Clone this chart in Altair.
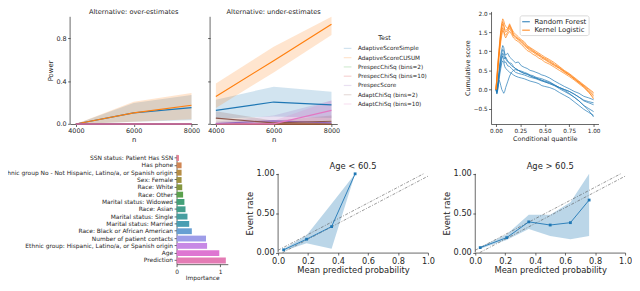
import altair as alt
import pandas as pd
import colorsys

FONT = "DejaVu Sans"
INK = "#262626"
K = 0.94  # vertical fit factor for the 291px window

# ---------------- power panels ----------------
n_vals = [4000, 6000, 8000]
tests = ["AdaptiveScoreSimple", "AdaptiveScoreCUSUM", "PrespecChiSq (bins=2)",
         "PrespecChiSq (bins=10)", "PrespecScore", "AdaptChiSq (bins=2)", "AdaptChiSq (bins=10)"]
test_colors = ["#1f77b4", "#ff7f0e", "#2ca02c", "#d62728", "#9467bd", "#8c564b", "#e377c2"]

over_mean = [[0, 0.104, 0.153], [0, 0.104, 0.175], [0, 0, 0], [0, 0, 0], [0, 0, 0], [0, 0, 0], [0, 0, 0]]
over_lo = [[0, 0.02, 0.035], [0, 0.022, 0.045], [0, 0, 0], [0, 0, 0], [0, 0, 0], [0, 0, 0], [0, 0, 0]]
over_hi = [[0, 0.195, 0.27], [0, 0.207, 0.29], [0, 0, 0], [0, 0, 0], [0, 0, 0], [0, 0, 0], [0, 0, 0]]

under_mean = [[0.127, 0.205, 0.179], [0.257, 0.59, 0.93], [0, 0, 0], [0, 0, 0],
              [0.005, 0.03, 0.01], [0.055, 0.01, 0.026], [0.0, 0.002, 0.127]]
under_lo = [[0.05, 0.07, 0.055], [0.15, 0.48, 0.83], [0, 0, 0], [0, 0, 0],
            [0, 0, 0], [0, 0, 0], [0, 0, 0.04]]
under_hi = [[0.227, 0.348, 0.30], [0.378, 0.72, 1.0], [0, 0, 0], [0, 0, 0],
            [0.02, 0.08, 0.22], [0.12, 0.03, 0.08], [0, 0.03, 0.22]]

# ---------------- cumulative score panel ----------------
cum_x = [0, .01, .02, .03, .04, .05, .06, .07, .08, .09, .10, .12, .14, .16, .18, .20, .23, .26,
         .29, .32, .35, .38, .41, .44, .47, .50, .55, .60, .65, .70, .75, .80, .85, .90, .95, 1.00]
rf_lines = [
    [0, -0.05, 0.2, 0.45, 0.7, 0.9, 1.05, 1.15, 1.1, 0.95, 0.9, 0.95, 0.85, 0.8, 0.75, 0.7, 0.72, 0.62,
     0.58, 0.55, 0.5, 0.48, 0.45, 0.42, 0.38, 0.36, 0.3, 0.22, 0.15, 0.08, 0.02, -0.05, -0.1, -0.18, -0.22, -0.27],
    [0, -0.08, 0.1, 0.35, 0.55, 0.75, 0.85, 0.95, 0.9, 0.8, 0.85, 0.75, 0.7, 0.68, 0.6, 0.55, 0.5, 0.48,
     0.45, 0.42, 0.38, 0.36, 0.32, 0.3, 0.28, 0.25, 0.2, 0.12, 0.05, 0.0, -0.05, -0.12, -0.2, -0.3, -0.35, -0.4],
    [0, -0.1, 0.05, 0.3, 0.5, 0.65, 0.8, 0.88, 0.78, 0.7, 0.72, 0.62, 0.6, 0.55, 0.5, 0.45, 0.42, 0.4,
     0.38, 0.35, 0.32, 0.3, 0.28, 0.25, 0.22, 0.2, 0.15, 0.1, 0.02, -0.05, -0.12, -0.2, -0.3, -0.42, -0.5, -0.58],
    [0, -0.05, 0.1, 0.25, 0.2, 0.1, 0.0, -0.05, -0.1, -0.05, 0.05, 0.2, 0.35, 0.45, 0.5, 0.52, 0.5, 0.45,
     0.42, 0.4, 0.36, 0.32, 0.3, 0.27, 0.24, 0.2, 0.16, 0.1, 0.05, 0.0, -0.05, -0.12, -0.2, -0.28, -0.32, -0.35],
    [0, -0.12, 0.0, 0.2, 0.4, 0.55, 0.7, 0.75, 0.7, 0.6, 0.55, 0.5, 0.45, 0.42, 0.38, 0.35, 0.32, 0.3,
     0.28, 0.25, 0.22, 0.2, 0.18, 0.15, 0.1, 0.08, 0.05, 0.0, -0.08, -0.15, -0.22, -0.32, -0.42, -0.52, -0.6, -0.68],
    [0, -0.05, 0.15, 0.4, 0.6, 0.8, 0.95, 1.05, 1.0, 0.9, 0.8, 0.72, 0.68, 0.62, 0.58, 0.55, 0.5, 0.46,
     0.42, 0.4, 0.36, 0.33, 0.3, 0.27, 0.24, 0.22, 0.18, 0.12, 0.05, -0.02, -0.1, -0.2, -0.3, -0.42, -0.55, -0.72],
]
kl_lines = [
    [0, 0.35, 0.7, 1.0, 1.3, 1.55, 1.75, 1.85, 1.8, 1.7, 1.65, 1.6, 1.72, 1.6, 1.5, 1.45, 1.38, 1.3,
     1.25, 1.15, 1.1, 1.05, 1.0, 0.95, 0.9, 0.85, 0.78, 0.7, 0.6, 0.5, 0.42, 0.32, 0.22, 0.12, 0.02, -0.08],
    [0, 0.3, 0.6, 0.9, 1.2, 1.45, 1.6, 1.72, 1.65, 1.55, 1.5, 1.55, 1.68, 1.58, 1.45, 1.4, 1.33, 1.28,
     1.2, 1.12, 1.08, 1.02, 0.96, 0.92, 0.86, 0.82, 0.75, 0.66, 0.58, 0.48, 0.4, 0.3, 0.2, 0.1, 0.0, -0.12],
    [0, 0.25, 0.55, 0.85, 1.1, 1.35, 1.5, 1.62, 1.55, 1.45, 1.42, 1.5, 1.6, 1.5, 1.4, 1.35, 1.3, 1.22,
     1.15, 1.08, 1.02, 0.98, 0.92, 0.88, 0.82, 0.78, 0.7, 0.62, 0.55, 0.45, 0.38, 0.28, 0.18, 0.08, -0.04, -0.16],
    [0, 0.2, 0.5, 0.8, 1.05, 1.25, 1.42, 1.55, 1.5, 1.4, 1.35, 1.45, 1.52, 1.45, 1.35, 1.3, 1.25, 1.18,
     1.1, 1.02, 0.98, 0.92, 0.88, 0.82, 0.78, 0.72, 0.66, 0.58, 0.5, 0.42, 0.34, 0.25, 0.15, 0.05, -0.08, -0.2],
    [0, 0.3, 0.65, 0.95, 1.25, 1.5, 1.68, 1.78, 1.7, 1.58, 1.55, 1.58, 1.65, 1.55, 1.42, 1.38, 1.32, 1.25,
     1.18, 1.1, 1.05, 1.0, 0.95, 0.9, 0.85, 0.8, 0.72, 0.64, 0.56, 0.47, 0.38, 0.28, 0.18, 0.08, -0.06, -0.25],
]
models = ["Random Forest", "Kernel Logistic"]
model_colors = ["#1f77b4", "#ff7f0e"]

# ---------------- feature importance ----------------
features = ["SSN status: Patient Has SSN", "Has phone",
            "Ethnic group No - Not Hispanic, Latino/a, or Spanish origin", "Sex: Female",
            "Race: White", "Race: Other", "Marital status: Widowed", "Race: Asian",
            "Marital status: Single", "Marital status: Married", "Race: Black or African American",
            "Number of patient contacts", "Ethnic group: Hispanic, Latino/a, or Spanish origin",
            "Age", "Prediction"]
importance = [0.055, 0.115, 0.115, 0.115, 0.13, 0.15, 0.18, 0.205, 0.25, 0.29, 0.35, 0.675, 0.70, 0.98, 1.13]
husl15 = ["#f77189", "#e5823f", "#ca9232", "#ae9d31", "#8ca631", "#52af3f", "#33b07a", "#35ae96",
          "#37acaf", "#38a9c5", "#56a0e4", "#9291f4", "#cc7af4", "#f064e0", "#f669b6"]

# ---------------- calibration panels ----------------
young_x = [0.037, 0.19, 0.357, 0.514]
young_y = [0.035, 0.17, 0.33, 1.0]
young_lo = [0.02, 0.12, 0.05, 1.0]
young_hi = [0.05, 0.22, 0.62, 1.0]
old_x = [0.033, 0.21, 0.357, 0.5, 0.635, 0.76]
old_y = [0.063, 0.19, 0.39, 0.35, 0.38, 0.667]
old_lo = [0.05, 0.16, 0.30, 0.21, 0.17, 0.21]
old_hi = [0.075, 0.23, 0.48, 0.48, 0.64, 1.0]
ref_lines = ["upper", "lower"]
ref_x = [[0.0, 0.97], [0.03, 1.0]]
ref_y = [[0.03, 1.0], [0.0, 0.97]]


def desat(hexc, prop=0.75):
    r, g, b = [int(hexc[i:i + 2], 16) / 255 for i in (1, 3, 5)]
    h, l, s = colorsys.rgb_to_hls(r, g, b)
    r, g, b = colorsys.hls_to_rgb(h, l, s * prop)
    return "#%02x%02x%02x" % tuple(int(round(c * 255)) for c in (r, g, b))


def spacer(w, h):
    return alt.Chart(pd.DataFrame({"v": [0]})).mark_point(opacity=0, size=0, strokeWidth=0).encode(
        x=alt.X("v:Q", axis=None), y=alt.Y("v:Q", axis=None)).properties(width=w, height=h)


def axis_line(ysc):
    # left spine drawn only over the [0, 1] part of the value range
    return alt.Chart(pd.DataFrame({"v": [0]})).mark_rule(color=INK, strokeWidth=0.7).encode(
        x=alt.value(0), y=alt.Y(datum=0, scale=ysc), y2=alt.datum(1))


def power_df(mean, lo, hi):
    rows = []
    for t, m, l, h in zip(tests, mean, lo, hi):
        for n, a, b, c in zip(n_vals, m, l, h):
            rows.append({"test": t, "n": n, "mean": a, "lo": b, "hi": c})
    return pd.DataFrame(rows)


P_H = 121.5 * K
P_TOP = 121.5 / 115.7


def power_chart(df, title, first, legend):
    xenc = alt.X("n:Q", scale=alt.Scale(domain=[3800, 8200], nice=False, zero=False),
                 axis=alt.Axis(values=n_vals, format="d", title="n", labelFontSize=6.5, titleFontSize=7,
                               titlePadding=1.5))
    ysc = alt.Scale(domain=[0, P_TOP], nice=False)
    yaxis = alt.Axis(values=[0, 0.2, 0.4, 0.6, 0.8, 1.0], format=".1f", title="Power" if first else None,
                     labels=first, labelFontSize=6.5, titleFontSize=7, titlePadding=3, domain=False,
                     titleY=63.65 * K)
    leg = None
    if legend:
        leg = alt.Legend(orient="none", legendX=135, legendY=24, title="Test", titleFontSize=6.5,
                         titleFontWeight="normal", titleAnchor="middle", titlePadding=2.5,
                         labelFontSize=5.8, symbolType="stroke", symbolSize=60, symbolStrokeWidth=1.2,
                         rowPadding=1.4, labelOffset=6)
    cscale = alt.Scale(domain=tests, range=test_colors)
    band = alt.Chart(df).mark_area(opacity=0.2).encode(
        x=xenc, y=alt.Y("lo:Q", scale=ysc, axis=yaxis), y2="hi:Q",
        color=alt.Color("test:N", scale=cscale, legend=leg))
    line = alt.Chart(df).mark_line(strokeWidth=1.2).encode(
        x=xenc, y=alt.Y("mean:Q", scale=ysc, axis=yaxis),
        color=alt.Color("test:N", scale=cscale, legend=leg))
    return alt.layer(band, line, axis_line(ysc)).properties(
        width=129, height=P_H,
        title=alt.TitleParams(title, fontSize=6.7, fontWeight="normal", offset=-3.8, anchor="middle"))


p1 = power_chart(power_df(over_mean, over_lo, over_hi), "Alternative: over-estimates", True, False)
p2 = power_chart(power_df(under_mean, under_lo, under_hi), "Alternative: under-estimates", False, True)

cum_rows = []
for model, lines in zip(models, [rf_lines, kl_lines]):
    for i, ys in enumerate(lines):
        for x, y in zip(cum_x, ys):
            cum_rows.append({"model": model, "line": f"{model}-{i}", "q": x, "score": y})
cum_df = pd.DataFrame(cum_rows)
cum = alt.Chart(cum_df).mark_line(strokeWidth=0.7).encode(
    x=alt.X("q:Q", scale=alt.Scale(domain=[-0.05, 1.05], nice=False),
            axis=alt.Axis(values=[0, 0.25, 0.5, 0.75, 1.0], format=".2f", title="Conditional quantile",
                          labelFontSize=5.8, titleFontSize=6.5, titlePadding=1.5)),
    y=alt.Y("score:Q", scale=alt.Scale(domain=[-0.905, 2.044], nice=False, zero=False),
            axis=alt.Axis(values=[-0.5, 0, 0.5, 1.0, 1.5, 2.0], format=".1f", title="Cumulative score",
                          labelFontSize=5.8, titleFontSize=6.5, titlePadding=3)),
    color=alt.Color("model:N", scale=alt.Scale(domain=models, range=model_colors),
                    legend=alt.Legend(orient="none", legendX=29, legendY=4, title=None,
                                      labelFontSize=7, symbolType="stroke", symbolSize=60,
                                      symbolStrokeWidth=1, strokeColor="#d9d9d9", fillColor="white",
                                      padding=2, cornerRadius=2, rowPadding=0.5, labelOffset=4)),
    detail="line:N",
).properties(width=109, height=121.5 * K)

bar_df = pd.DataFrame({"feature": features, "importance": importance})
bars = alt.Chart(bar_df).mark_bar().encode(
    x=alt.X("importance:Q", scale=alt.Scale(domain=[0, 1.176], nice=False),
            axis=alt.Axis(values=[0, 1], format="d", title="Importance", labelFontSize=6,
                          titleFontSize=6, titlePadding=0.5)),
    y=alt.Y("feature:N", sort=features, scale=alt.Scale(paddingInner=0.2, paddingOuter=0.1),
            axis=alt.Axis(title=None, labelFontSize=6, labelLimit=400)),
    color=alt.Color("feature:N", scale=alt.Scale(domain=features, range=[desat(c) for c in husl15]),
                    legend=None),
).properties(width=52, height=118.5 * K)

C_H = 106 * K
C_TOP = 106 / 85


def calib_chart(xs, ys, lo, hi, title):
    pts = pd.DataFrame({"x": xs, "y": ys, "lo": lo, "hi": hi})
    rl = pd.DataFrame([{"line": nm, "x": x, "y": y}
                       for nm, xx, yy in zip(ref_lines, ref_x, ref_y) for x, y in zip(xx, yy)])
    xsc = alt.Scale(domain=[0, 1], nice=False)
    ysc = alt.Scale(domain=[0, C_TOP], nice=False)
    xax = alt.Axis(values=[0, 0.2, 0.4, 0.6, 0.8, 1.0], format=".1f", title="Mean predicted probability",
                   labelFontSize=8.3, titleFontSize=8.5, titlePadding=0.5)
    yax = alt.Axis(values=[0, 0.25, 0.5, 0.75, 1.0], format=".2f", title="Event rate",
                   labelFontSize=8.3, titleFontSize=8.5, titlePadding=2, domain=False, titleY=63.5 * K)
    refl = alt.Chart(rl).mark_line(color="#555555", strokeWidth=0.6, strokeDash=[3, 1.5, 1, 1.5]).encode(
        x=alt.X("x:Q", scale=xsc, axis=xax), y=alt.Y("y:Q", scale=ysc, axis=yax), detail="line:N")
    band = alt.Chart(pts).mark_area(color="#1f77b4", opacity=0.3).encode(
        x=alt.X("x:Q", scale=xsc, axis=xax), y=alt.Y("lo:Q", scale=ysc, axis=yax), y2="hi:Q")
    line = alt.Chart(pts).mark_line(color="#1f77b4", strokeWidth=0.9,
                                    point=alt.OverlayMarkDef(shape="square", size=8, filled=True,
                                                             color="#1f77b4")).encode(
        x=alt.X("x:Q", scale=xsc, axis=xax), y=alt.Y("y:Q", scale=ysc, axis=yax))
    return alt.layer(band, refl, line, axis_line(ysc)).properties(
        width=152, height=C_H,
        title=alt.TitleParams(title, fontSize=8.5, fontWeight="normal", offset=-16, anchor="middle"))


c1 = calib_chart(young_x, young_y, young_lo, young_hi, "Age < 60.5")
c2 = calib_chart(old_x, old_y, old_lo, old_hi, "Age > 60.5")

IND = dict(x="independent", y="independent", color="independent")

# the first (invisible) cell of the top row is as tall as the offset of the bottom row
row1 = alt.hconcat(spacer(71, 145), p1, spacer(13, 1), p2, spacer(156, 1), cum,
                   spacing=0, bounds="flush").resolve_scale(**IND).resolve_legend(color="independent")
row2 = alt.hconcat(spacer(179, 1), bars, spacer(51, 1), c1, spacer(48, 1), c2,
                   spacing=0, bounds="flush").resolve_scale(**IND)

chart = alt.vconcat(row1, row2, spacing=0).resolve_scale(**IND).resolve_legend(
    color="independent").properties(
    padding={"left": -8, "top": -1.5, "right": 0, "bottom": 0}
).configure(font=FONT).configure_view(stroke=None).configure_axis(
    grid=False, domainColor=INK, tickColor=INK, domainWidth=0.7, tickWidth=0.7, tickSize=2.5,
    labelColor=INK, titleColor=INK, titleFontWeight="normal", labelPadding=1.5,
    labelFlush=False, labelOverlap=False
).configure_legend(labelColor=INK, titleColor=INK).configure_title(color=INK)

chart.save("out.html", embed_options={"renderer": "svg", "actions": False})
